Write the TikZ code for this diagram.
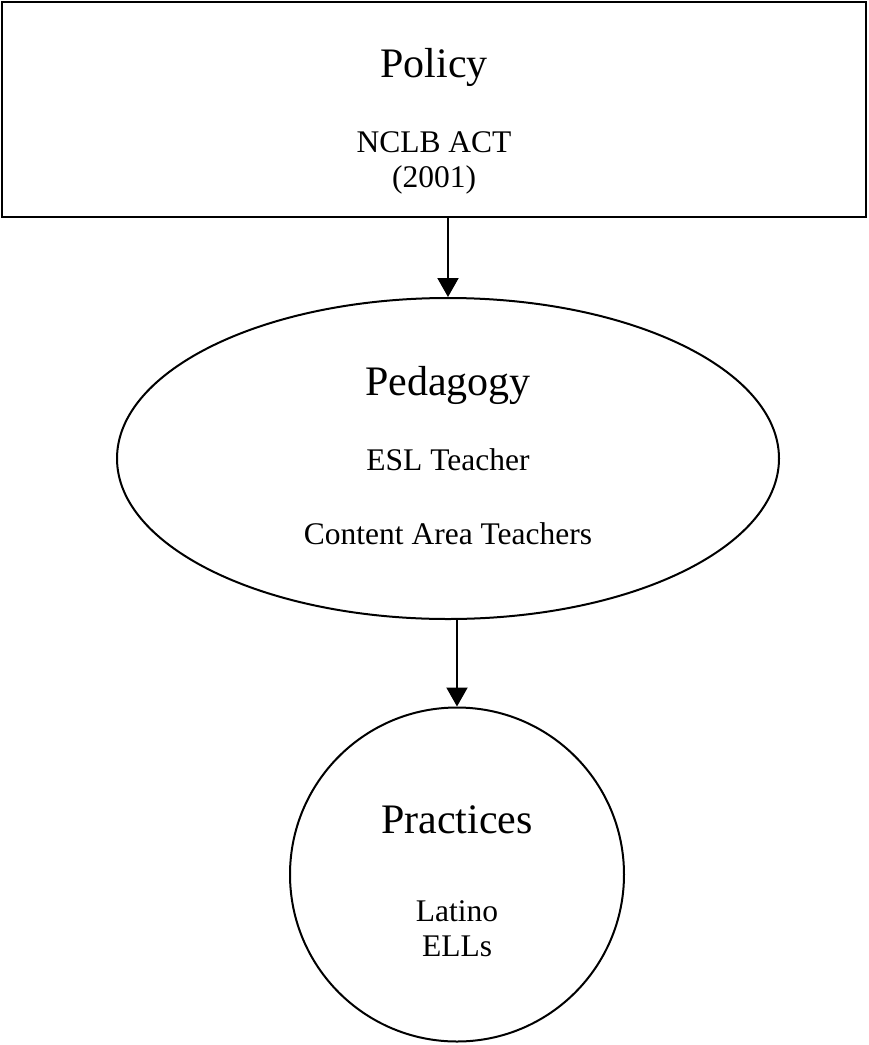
\documentclass[tikz,border=0pt]{standalone}
\usepackage{fontspec}
\setmainfont{Liberation Serif}
\usetikzlibrary{arrows.meta,shapes.geometric,positioning}

\tikzset{
 headtxt/.style={font=\fontsize{42}{48}\selectfont,anchor=base},
 itemtxt/.style={font=\fontsize{31.5}{35}\selectfont,anchor=base,align=center},
 frame/.style={draw,line width=2pt,inner sep=0pt}
}

\begin{document}
\begin{tikzpicture}[x=1pt,y=-1pt,>={Triangle[length=19pt,width=21pt]}]
\useasboundingbox (0,0) rectangle (869,1045);
% the three levels
\node[frame,rectangle,minimum width=864pt,minimum height=215pt] (policy) at (434,109.5) {};
\node[frame,ellipse,minimum width=662pt,minimum height=321pt] (pedagogy) at (448,458.5) {};
\node[frame,circle,minimum size=334pt] (practices) at (457,874.5) {};
% labels (base = last line)
\node[headtxt] (poltitle) at (434,77) {Policy};
\node[itemtxt] (nclb) at (434,187) {NCLB ACT\\(2001)};
\node[headtxt] (pedtitle) at (448,395) {Pedagogy};
\node[itemtxt] (esl) at (448,470) {ESL Teacher};
\node[itemtxt] (content) at (448,544) {Content Area Teachers};
\node[headtxt] (practitle) at (457,833) {Practices};
\node[itemtxt] (ells) at (457,956.7) {Latino\\ELLs};
% arrows
\draw[->,line width=2pt] (policy.south -| pedagogy.north)--(pedagogy.north);
\draw[->,line width=2pt] (pedagogy.south -| practices.north)--(practices.north);
\end{tikzpicture}
\end{document}
